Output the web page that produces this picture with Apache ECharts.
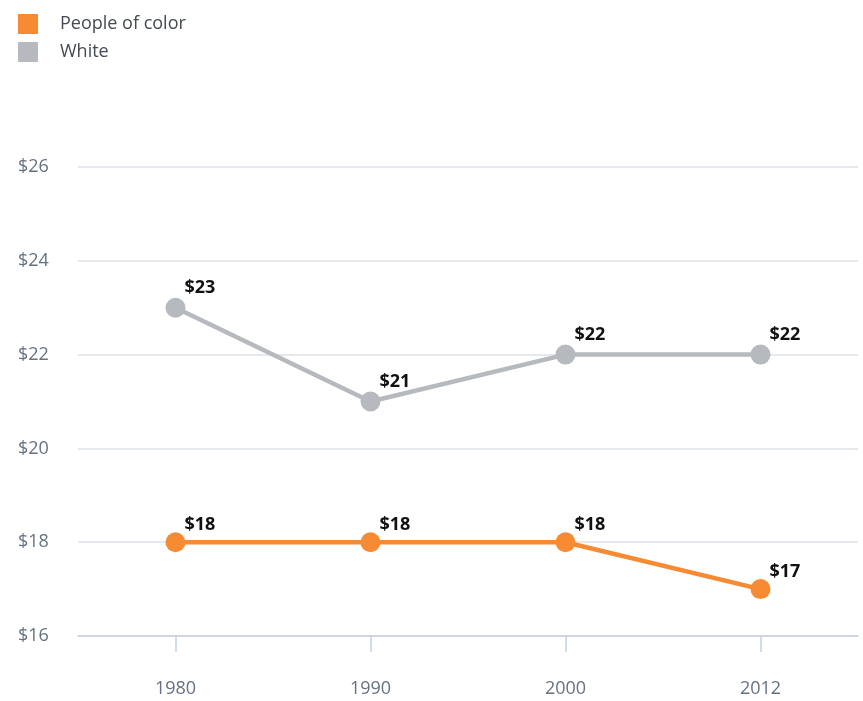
<!DOCTYPE html>
<html>
<head>
<meta charset="utf-8">
<script src="https://cdn.jsdelivr.net/npm/echarts@6/dist/echarts.min.js"></script>
<style>
  html, body { margin: 0; padding: 0; background: #fff; }
  #chart { width: 863px; height: 701px; }
</style>
</head>
<body>
<div id="chart"></div>
<script>
const years = ['1980', '1990', '2000', '2012']
const peopleOfColor = [18, 18, 18, 17]
const white = [23, 21, 22, 22]

const font = '"Open Sans", "Noto Sans", sans-serif'
const orange = '#f68b33'
const gray = '#b6babf'

const dataLabel = {
  show: true,
  position: [19, 2],
  align: 'left',
  verticalAlign: 'bottom',
  formatter: p => '$' + p.value,
  color: '#111',
  fontWeight: 'bold',
  fontSize: 18,
  fontFamily: font
}

const c = echarts.init(document.getElementById('chart'))
c.setOption({
  animation: false,
  legend: {
    orient: 'vertical', left: 13, top: 9,
    itemWidth: 20, itemHeight: 20, itemGap: 8,
    icon: 'rect',
    data: ['People of color', 'White'],
    textStyle: { fontSize: 18, color: '#454b52', fontFamily: font, padding: [0, 0, 0, 17] }
  },
  grid: { left: 78, right: 5, top: 167, bottom: 65 },
  xAxis: {
    type: 'category', data: years, boundaryGap: true,
    axisLine: { lineStyle: { color: '#c5d0de', width: 1.5 } },
    axisTick: { show: true, alignWithLabel: true, length: 16, lineStyle: { color: '#c5d0de', width: 1.5 } },
    axisLabel: { margin: 44, fontSize: 18, color: '#66727f', fontFamily: font }
  },
  yAxis: {
    type: 'value', min: 16, max: 26, interval: 2,
    axisLine: { show: false }, axisTick: { show: false },
    splitLine: { lineStyle: { color: '#dde1e6', width: 1.5 } },
    axisLabel: { align: 'left', margin: 60, fontSize: 18, color: '#66727f', fontFamily: font, formatter: v => '$' + v }
  },
  series: [
    {
      name: 'People of color', type: 'line', data: peopleOfColor,
      symbol: 'circle', symbolSize: 20,
      lineStyle: { width: 4.5, color: orange }, itemStyle: { color: orange },
      label: dataLabel
    },
    {
      name: 'White', type: 'line', data: white,
      symbol: 'circle', symbolSize: 20,
      lineStyle: { width: 4.5, color: gray }, itemStyle: { color: gray },
      label: Object.assign({}, dataLabel, { position: [19, -1] })
    }
  ]
})
</script>
</body>
</html>
